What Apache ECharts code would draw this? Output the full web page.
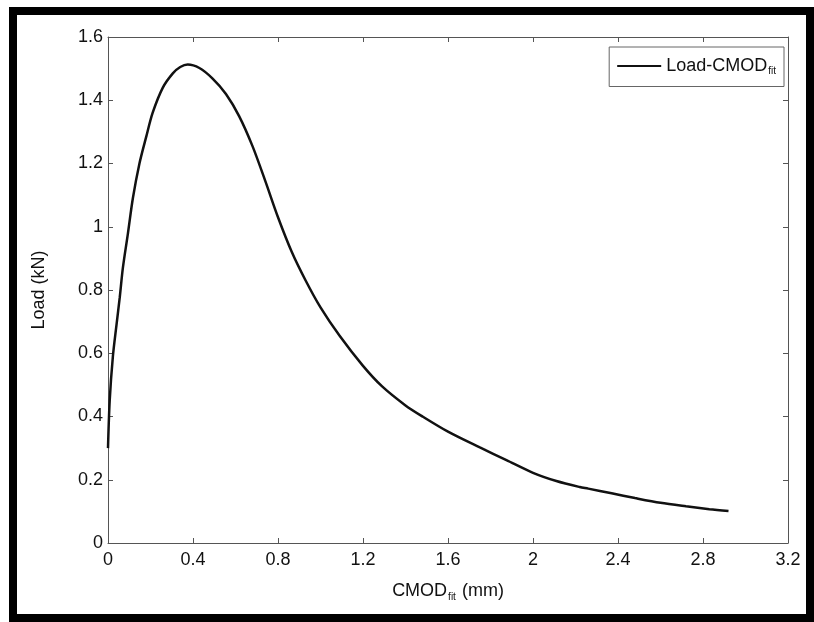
<!DOCTYPE html>
<html>
<head>
<meta charset="utf-8">
<title>Load-CMOD</title>
<script src="https://cdn.jsdelivr.net/npm/echarts@6/dist/echarts.min.js"></script>
<style>
    html, body { margin: 0; padding: 0; background: #fff; }
    #chart { width: 814px; height: 622px; }
</style>
</head>
<body>
<div id="chart"></div>
<script>
// CMOD (mm) and load (kN)
const cmod = [
    0, 0.008, 0.023, 0.04, 0.055, 0.07, 0.094, 0.117, 0.148, 0.18,
    0.21, 0.258, 0.305, 0.34, 0.375, 0.43, 0.49, 0.555, 0.617, 0.68,
    0.74, 0.8, 0.865, 0.93, 1.0, 1.09, 1.2, 1.29, 1.4, 1.48,
    1.6, 1.75, 1.875, 2.0, 2.11, 2.22, 2.26, 2.37, 2.48, 2.6,
    2.72, 2.83, 2.92
];
const load = [
    0.3, 0.45, 0.59, 0.69, 0.775, 0.87, 0.98, 1.09, 1.2, 1.285,
    1.36, 1.44, 1.485, 1.505, 1.513, 1.502, 1.47, 1.42, 1.35, 1.255,
    1.145, 1.03, 0.92, 0.83, 0.745, 0.655, 0.56, 0.495, 0.435, 0.4,
    0.352, 0.302, 0.262, 0.222, 0.196, 0.177, 0.172, 0.157, 0.142, 0.127,
    0.116, 0.107, 0.101
];
const seriesName = 'Load-CMOD';

const font = "'Liberation Sans', Arial, sans-serif";
const fontSize = 18;
const axisColor = '#555';

const chart = echarts.init(document.getElementById('chart'));

// MATLAB-style box: ticks inside on all four sides
function boxAxis(extra) {
    return Object.assign({
        type: 'value',
        axisLine: { show: true, onZero: false, lineStyle: { color: axisColor, width: 1 } },
        axisTick: { show: true, inside: true, length: 5, lineStyle: { color: axisColor } },
        splitLine: { show: false },
    }, extra);
}

const subRich = {
    a: { fontFamily: font, fontSize: fontSize, color: '#111' },
    s: { fontFamily: font, fontSize: 10, color: '#111', padding: [11, 1, 0, 1] },
};

const option = {
    backgroundColor: '#fff',
    animation: false,
    grid: { left: 108, right: 26, top: 37, bottom: 79 },
    legend: {
        right: 30,
        top: 47,
        itemWidth: 44,
        itemHeight: 2,
        itemGap: 6,
        padding: [10, 8, 10, 8],
        backgroundColor: '#fff',
        borderColor: '#666',
        borderWidth: 1,
        borderRadius: 0,
        data: [{ name: seriesName, icon: 'rect', itemStyle: { color: '#111' } }],
        formatter: () => '{a|Load-CMOD}{s|fit}',
        textStyle: { rich: subRich },
    },
    xAxis: [
        boxAxis({
            min: 0, max: 3.2, interval: 0.4,
            position: 'bottom',
            axisLabel: { color: '#111', fontFamily: font, fontSize: fontSize, margin: 8 },
            name: '{a|CMOD}{s|fit}{a| (mm)}',
            nameLocation: 'middle',
            nameGap: 38,
            nameTextStyle: { rich: subRich },
        }),
        boxAxis({
            min: 0, max: 3.2, interval: 0.4,
            position: 'top',
            axisLabel: { show: false },
        }),
    ],
    yAxis: [
        boxAxis({
            min: 0, max: 1.6, interval: 0.2,
            position: 'left',
            axisLabel: { color: '#111', fontFamily: font, fontSize: fontSize, margin: 5 },
            name: 'Load (kN)',
            nameLocation: 'middle',
            nameGap: 60,
            nameTextStyle: { fontFamily: font, fontSize: fontSize, color: '#111' },
        }),
        boxAxis({
            min: 0, max: 1.6, interval: 0.2,
            position: 'right',
            axisLabel: { show: false },
        }),
    ],
    series: [
        {
            name: seriesName,
            type: 'line',
            data: cmod.map((x, i) => [x, load[i]]),
            smooth: 0.3,
            showSymbol: false,
            lineStyle: { color: '#111', width: 2.5 },
            itemStyle: { color: '#111' },
        },
    ],
    graphic: [
        {
            type: 'rect',
            silent: true,
            z: 100,
            shape: { x: 13, y: 11, width: 797, height: 607 },
            style: { fill: 'none', stroke: '#000', lineWidth: 8 },
        },
    ],
};

chart.setOption(option);
</script>
</body>
</html>
